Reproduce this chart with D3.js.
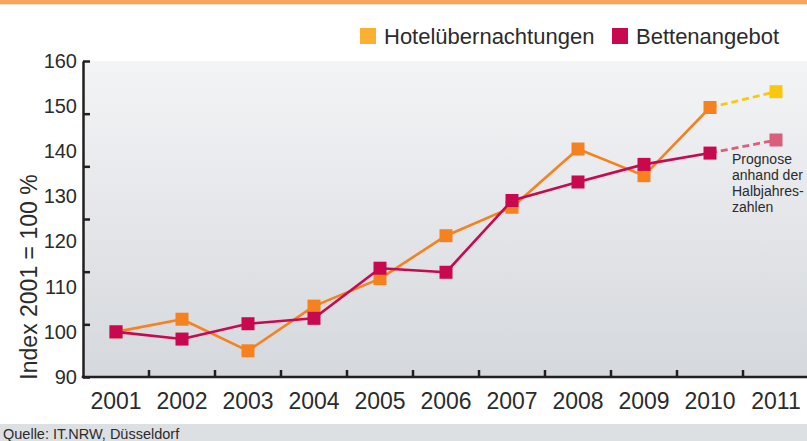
<!DOCTYPE html>
<html>
<head>
<meta charset="utf-8">
<script src="https://cdn.jsdelivr.net/npm/d3@7"></script>
<style>
  html, body { margin: 0; padding: 0; background: #fff; }
  svg { display: block; font-family: "Liberation Sans", Arial, Helvetica, sans-serif; }
</style>
</head>
<body>
<svg id="chart" width="807" height="441"></svg>
<script>
// ---- data ----
const years = ["2001","2002","2003","2004","2005","2006","2007","2008","2009","2010","2011"];
const hotelValues  = [100, 102.8, 95.8, 105.7, 111.8, 121.3, 127.6, 140.5, 134.6, 149.7, 153.2];
const bettenValues = [100, 98.4, 101.8, 103.0, 114.1, 113.2, 129.1, 133.2, 137.1, 139.6, 142.5];
const forecastYears = ["2011"];
const yTickLabels = [90, 100, 110, 120, 130, 140, 150, 160];
const seriesNames = ["Hotelübernachtungen", "Bettenangebot"];
const yTitle = "Index 2001 = 100 %";
const noteLines = ["Prognose", "anhand der", "Halbjahres-", "zahlen"];
const sourceText = "Quelle: IT.NRW, Düsseldorf";

// ---- styles ----
const colHotel = "#F5821F", colHotelFc = "#F9C80E", colHotelLegend = "#FBB033";
const colBetten = "#C8084F", colBettenFc = "#D9607A";
const axisCol = "#231F20", textCol = "#2b2b2b";

const svg = d3.select("#chart");
const W = 807, H = 441;
const plot = { left: 83, right: 809, top: 61, bottom: 377 };

const x = d3.scaleBand().domain(years).range([plot.left, plot.right]).padding(0);
const y = d3.scaleLinear().domain([90, 160]).range([plot.bottom, plot.top]);
const cx = d => x(d) + x.bandwidth() / 2;

// defs
const defs = svg.append("defs");
const grad = defs.append("linearGradient").attr("id", "bg").attr("x1", 0).attr("y1", 0).attr("x2", 0).attr("y2", 1);
grad.append("stop").attr("offset", "0%").attr("stop-color", "#f3f4f6");
grad.append("stop").attr("offset", "100%").attr("stop-color", "#d5d8dc");

// top orange band
svg.append("rect").attr("x", 0).attr("y", 0).attr("width", W).attr("height", 4).attr("fill", "#F9A55E");
svg.append("rect").attr("x", 0).attr("y", 4).attr("width", W).attr("height", 1).attr("fill", "#FDE2CA");

// plot background
svg.append("rect").attr("x", plot.left).attr("y", plot.top)
  .attr("width", W - plot.left).attr("height", plot.bottom - plot.top)
  .attr("fill", "url(#bg)");

// source band
svg.append("rect").attr("x", 0).attr("y", 424).attr("width", W).attr("height", H - 424).attr("fill", "#dde0e3");
svg.append("text").attr("x", 3).attr("y", 438.5).attr("font-size", 14.5).attr("fill", textCol).text(sourceText);

// ---- y axis ----
const yLabelAxis = d3.axisLeft(y).tickValues(yTickLabels).tickSize(0).tickPadding(6).tickFormat(d3.format("d"));
const gyl = svg.append("g").attr("transform", `translate(${plot.left},0)`).call(yLabelAxis);
gyl.select(".domain").remove();
gyl.selectAll("text").attr("font-size", 20).attr("fill", textCol).attr("font-family", null);

const markCount = 6;
const markVals = d3.range(0, markCount + 1).map(k => 90 + k * 70 / markCount);
const yMarkAxis = d3.axisRight(y).tickValues(markVals).tickSize(7).tickSizeOuter(0).tickFormat("");
const gym = svg.append("g").attr("transform", `translate(${plot.left},0)`).call(yMarkAxis);
gym.select(".domain").attr("stroke", axisCol).attr("stroke-width", 2.5);
gym.selectAll(".tick line").attr("stroke", axisCol).attr("stroke-width", 2.5);

// ---- x axis ----
const xAxis = d3.axisBottom(x).tickSize(0).tickPadding(16);
const gx = svg.append("g").attr("transform", `translate(0,${plot.bottom})`).call(xAxis);
gx.select(".domain").remove();
gx.selectAll("text").attr("font-size", 23).attr("fill", textCol).attr("font-family", null);

// boundary tick marks between years
const bounds = years.slice(1).map(d => x(d));
svg.append("g").selectAll("line").data(bounds).join("line")
  .attr("x1", d => d).attr("x2", d => d)
  .attr("y1", plot.bottom).attr("y2", plot.bottom - 7)
  .attr("stroke", axisCol).attr("stroke-width", 2.5);
svg.append("line").attr("x1", plot.left - 1.25).attr("x2", W).attr("y1", plot.bottom).attr("y2", plot.bottom)
  .attr("stroke", axisCol).attr("stroke-width", 2.5);

// y title
svg.append("text")
  .attr("transform", `translate(37,277) rotate(-90)`)
  .attr("text-anchor", "middle").attr("font-size", 23).attr("fill", textCol)
  .text(yTitle);

// ---- series ----
const line = d3.line().x(d => cx(d.year)).y(d => y(d.value));
function drawSeries(values, col, fcCol) {
  const pts = years.map((yr, i) => ({ year: yr, value: values[i], fc: forecastYears.includes(yr) }));
  const actual = pts.filter(p => !p.fc);
  const lastActual = actual[actual.length - 1];
  const fcPts = [lastActual].concat(pts.filter(p => p.fc));
  const g = svg.append("g");
  g.append("path").datum(fcPts).attr("d", line).attr("fill", "none")
    .attr("stroke", fcCol).attr("stroke-width", 2.8).attr("stroke-dasharray", "7,4");
  g.append("path").datum(actual).attr("d", line).attr("fill", "none")
    .attr("stroke", col).attr("stroke-width", 2.6).attr("stroke-linejoin", "round");
  const s = 13;
  g.selectAll("rect").data(pts).join("rect")
    .attr("x", d => cx(d.year) - s / 2).attr("y", d => y(d.value) - s / 2)
    .attr("width", s).attr("height", s)
    .attr("fill", d => d.fc ? fcCol : col);
}
drawSeries(hotelValues, colHotel, colHotelFc);
drawSeries(bettenValues, colBetten, colBettenFc);

// note
const note = svg.append("text").attr("font-size", 14).attr("fill", textCol);
noteLines.forEach((t, i) => note.append("tspan").attr("x", 732).attr("y", 164 + i * 16).text(t));

// ---- legend ----
const legend = svg.append("g");
const legendItems = [
  { name: seriesNames[0], col: colHotelLegend, x: 360 },
  { name: seriesNames[1], col: colBetten, x: 612 }
];
legendItems.forEach(it => {
  legend.append("rect").attr("x", it.x).attr("y", 28).attr("width", 16).attr("height", 16).attr("fill", it.col);
  legend.append("text").attr("x", it.x + 24).attr("y", 44).attr("font-size", 22).attr("fill", textCol).text(it.name);
});
</script>
</body>
</html>
